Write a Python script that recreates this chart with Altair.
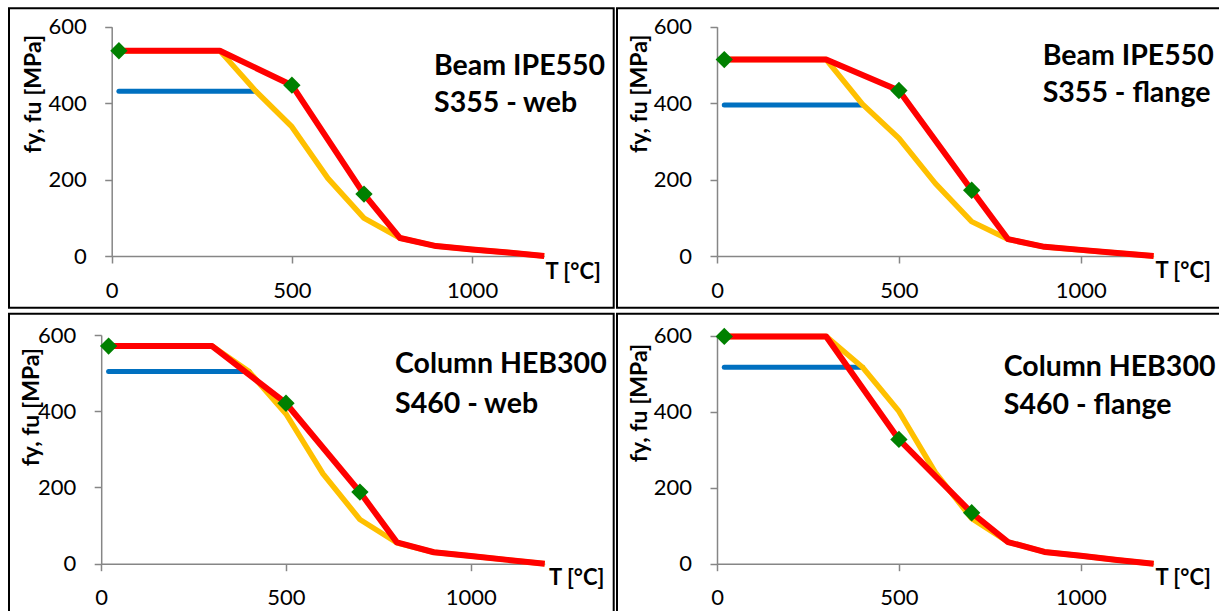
import altair as alt
import pandas as pd

# ---------------- data ----------------
T_FY = [20, 400]
T_FU = [20, 300, 400, 500, 600, 700, 800, 900, 1000, 1100, 1200]
T_TEST = [20, 500, 700]

# Beam IPE550 S355 - web
p1_fy = [431, 431]
p1_fu = [537, 537, 431, 338, 203, 99, 47, 26, 17, 9, 0]
p1_red_T = [20, 300, 500, 700, 800, 900, 1000, 1100, 1200]
p1_red = [537, 537, 447, 162, 47, 26, 17, 9, 0]
p1_test = [537, 447, 162]

# Beam IPE550 S355 - flange
p2_fy = [395, 395]
p2_fu = [514, 514, 397, 308, 190, 90, 44, 24, 16, 8, 0]
p2_red_T = [20, 300, 500, 700, 800, 900, 1000, 1100, 1200]
p2_red = [514, 514, 433, 172, 44, 24, 16, 8, 0]
p2_test = [514, 433, 172]

# Column HEB300 S460 - web
p3_fy = [504, 504]
p3_fu = [571, 571, 504, 393, 236, 116, 55, 30, 20, 10, 0]
p3_red_T = [20, 300, 500, 700, 800, 900, 1000, 1100, 1200]
p3_red = [571, 571, 421, 188, 56, 30, 20, 10, 0]
p3_test = [571, 421, 188]

# Column HEB300 S460 - flange
p4_fy = [517, 517]
p4_fu = [598, 598, 517, 401, 240, 119, 57, 31, 21, 10, 0]
p4_red_T = [20, 300, 500, 700, 800, 900, 1000, 1100, 1200]
p4_red = [598, 598, 327, 134, 57, 31, 21, 10, 0]
p4_test = [598, 327, 134]

TITLES = [
    ["Beam IPE550", "S355 - web"],
    ["Beam IPE550", "S355 - flange"],
    ["Column HEB300", "S460 - web"],
    ["Column HEB300", "S460 - flange"],
]
X_TICKS = [0, 500, 1000]
Y_TICKS = [0, 200, 400, 600]
X_TITLE = "T [°C]"
Y_TITLE = "fy, fu [MPa]"

# ---------------- layout (pixels) ----------------
W, H = 1219, 611
FONT = "Lato"
LAYOUT = [
    dict(xr=[111.7, 544.2], yr=[256, 26.7], box=(9, 8.3, 613.7, 307.7),
         yt=(33, 93.5), xt=(545, 22.5), txt=(434, 75, 111.7)),
    dict(xr=[717, 1153.6], yr=[256, 26.7], box=(617, 8.3, 1222, 307.7),
         yt=(639, 93.3), xt=(1155, 21), txt=(1042.7, 65, 101.7)),
    dict(xr=[101.2, 544.7], yr=[563.7, 335], box=(9, 313.7, 613.7, 613),
         yt=(31, 406.7), xt=(548.6, 21), txt=(395, 373.3, 412.7)),
    dict(xr=[717, 1153.6], yr=[563.7, 335.7], box=(617, 313.7, 1222, 613),
         yt=(639, 402.5), xt=(1155, 20.8), txt=(1003.8, 375.7, 414.3)),
]

AXIS_GREY = "#868686"


def panel(i, fy, fu, red_T, red, test):
    L = LAYOUT[i]
    xs = alt.Scale(domain=[0, 1200], range=L["xr"], nice=False, zero=False)
    ys = alt.Scale(domain=[0, 600], range=L["yr"], nice=False)
    xax = alt.Axis(orient="bottom", offset=L["yr"][0] - H, values=X_TICKS,
                   format="d",
                   grid=False, domainColor=AXIS_GREY, domainWidth=1.5,
                   tickColor=AXIS_GREY, tickWidth=1.5, tickSize=7,
                   labelFont=FONT, labelFontSize=22, labelColor="#000000",
                   labelPadding=17, labelFlush=False,
                   titleFont=FONT, titleFontSize=22, titleFontWeight="bold",
                   titleColor="#000000", titleX=L["xt"][0], titleY=L["xt"][1],
                   titleAlign="left", titleBaseline="alphabetic", titleAngle=0)
    yax = alt.Axis(orient="left", offset=-L["xr"][0], values=Y_TICKS,
                   format="d",
                   grid=False, domainColor=AXIS_GREY, domainWidth=1.5,
                   tickColor=AXIS_GREY, tickWidth=1.5, tickSize=7,
                   labelFont=FONT, labelFontSize=22, labelColor="#000000",
                   labelPadding=18.5, labelFlush=False,
                   titleFont=FONT, titleFontSize=23, titleFontWeight="bold",
                   titleColor="#000000",
                   titleX=L["yt"][0] - L["xr"][0], titleY=L["yt"][1],
                   titleAlign="center", titleBaseline="middle", titleAngle=270)
    X = alt.X("T:Q", scale=xs, axis=xax, title=X_TITLE)
    Y = alt.Y("v:Q", scale=ys, axis=yax, title=Y_TITLE)

    d_fy = pd.DataFrame({"T": T_FY, "v": fy})
    d_fu = pd.DataFrame({"T": T_FU, "v": fu})
    d_red = pd.DataFrame({"T": red_T, "v": red})
    d_test = pd.DataFrame({"T": T_TEST, "v": test})

    blue = alt.Chart(d_fy).mark_line(color="#0070C0", strokeWidth=5,
                                     strokeCap="round", clip=False).encode(x=X, y=Y)
    yellow = alt.Chart(d_fu).mark_line(color="#FFC000", strokeWidth=5.5,
                                       strokeJoin="round", clip=False).encode(x=X, y=Y)
    redl = alt.Chart(d_red).mark_line(color="#FF0000", strokeWidth=6,
                                      strokeJoin="round", clip=False).encode(x=X, y=Y)
    green = alt.Chart(d_test).mark_point(shape="diamond", filled=True, color="#008000",
                                         size=300, opacity=1, clip=False).encode(x=X, y=Y)

    bx = L["box"]
    border = alt.Chart(pd.DataFrame({"k": [0]})).mark_rect(
        fillOpacity=0, stroke="#000000", strokeWidth=2).encode(
        x=alt.value(bx[0]), y=alt.value(bx[1]), x2=alt.value(bx[2]), y2=alt.value(bx[3]))

    tx, ty1, ty2 = L["txt"]
    line1 = alt.Chart(pd.DataFrame({"label": [TITLES[i][0]]})).mark_text(
        font=FONT, fontSize=28.5, fontWeight="bold", color="#000000",
        align="left", baseline="alphabetic").encode(
        text="label:N", x=alt.value(tx), y=alt.value(ty1))
    line2 = alt.Chart(pd.DataFrame({"label": [TITLES[i][1]]})).mark_text(
        font=FONT, fontSize=28.5, fontWeight="bold", color="#000000",
        align="left", baseline="alphabetic").encode(
        text="label:N", x=alt.value(tx), y=alt.value(ty2))

    return alt.layer(blue, yellow, redl, green, border, line1, line2)


panels = [
    panel(0, p1_fy, p1_fu, p1_red_T, p1_red, p1_test),
    panel(1, p2_fy, p2_fu, p2_red_T, p2_red, p2_test),
    panel(2, p3_fy, p3_fu, p3_red_T, p3_red, p3_test),
    panel(3, p4_fy, p4_fu, p4_red_T, p4_red, p4_test),
]

chart = alt.layer(*panels).resolve_scale(
    x="independent", y="independent"
).resolve_axis(
    x="independent", y="independent"
).properties(
    width=W, height=H, padding=0,
    autosize=alt.AutoSizeParams(type="none"),
    background="#ffffff",
).configure_view(strokeWidth=0)

chart.save("out.html", embed_options={"renderer": "svg", "actions": False})
